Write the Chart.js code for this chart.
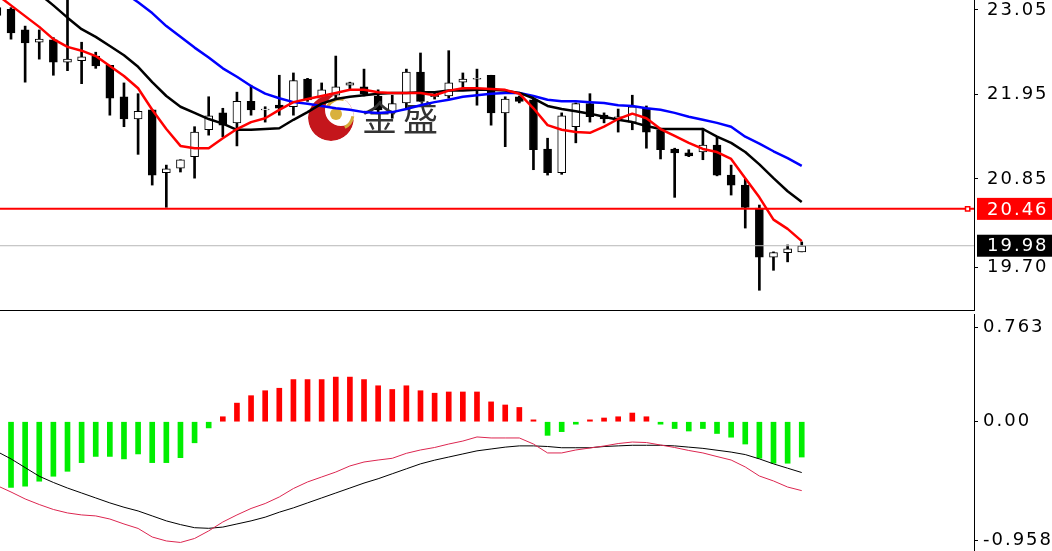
<!DOCTYPE html>
<html>
<head>
<meta charset="utf-8">
<script src="https://cdn.jsdelivr.net/npm/chart.js@4.4.1/dist/chart.umd.min.js"></script>
<style>
  html, body { margin: 0; padding: 0; background: #fff; overflow: hidden; }
  #wrap { position: relative; width: 1052px; height: 551px; }
  canvas { position: absolute; left: 0; }
  #priceChart { top: 0; }
  #macdChart { top: 312px; }
  #sep { position: absolute; left: 0; top: 310px; width: 975px; height: 1px; background: #000; }
</style>
</head>
<body>
<div id="wrap">
  <canvas id="priceChart" width="1052" height="311"></canvas>
  <div id="sep"></div>
  <canvas id="macdChart" width="1052" height="239"></canvas>
</div>
<script>
// bar numbers, first one is the half hidden candle at the left edge
const firstBar = -1;

const opens = [23.08, 23.06, 22.79, 22.63, 22.66, 22.37, 22.39, 22.45, 22.33, 21.92, 21.63,
  21.75, 20.93, 20.99, 21.14, 21.49, 21.71, 21.58, 21.86, 21.75, 21.81,
  21.79, 22.15, 21.90, 21.94, 22.07, 22.05, 21.93, 21.72, 21.84, 22.24,
  21.92, 21.93, 22.11, 22.15, 22.20, 21.71, 21.92, 21.88, 21.24, 20.93,
  21.53, 21.83, 21.68, 21.63, 21.59, 21.77, 21.49, 21.24, 21.19, 21.20,
  21.29, 20.90, 20.77, 20.47, 19.83, 19.89, 19.90];
const highs = [23.11, 23.08, 22.84, 22.79, 22.69, 23.35, 22.63, 22.50, 22.33, 22.10, 21.96,
  21.75, 21.03, 21.10, 21.53, 21.92, 21.77, 21.98, 22.07, 21.79, 22.20,
  22.23, 22.16, 22.10, 22.45, 22.11, 22.28, 22.01, 21.94, 22.28, 22.49,
  21.97, 22.52, 22.23, 22.28, 22.20, 21.92, 21.93, 21.89, 21.38, 21.71,
  21.84, 21.96, 21.71, 21.76, 21.94, 21.80, 21.51, 21.25, 21.23, 21.51,
  21.40, 21.03, 20.85, 20.51, 19.90, 19.99, 20.03];
const lows = [22.95, 22.67, 22.11, 22.41, 22.20, 22.26, 22.09, 22.29, 21.68, 21.53, 21.17,
  20.77, 20.48, 20.94, 20.86, 21.42, 21.40, 21.28, 21.68, 21.59, 21.68,
  21.68, 21.86, 21.81, 21.88, 22.01, 21.93, 21.71, 21.64, 21.77, 21.86,
  21.89, 21.90, 22.03, 21.81, 21.55, 21.27, 21.84, 20.97, 20.90, 20.91,
  21.32, 21.59, 21.58, 21.46, 21.49, 21.25, 21.11, 20.61, 21.14, 21.10,
  20.89, 20.64, 20.21, 19.40, 19.66, 19.77, 19.90];
const closes = [22.98, 22.75, 22.62, 22.67, 22.37, 22.41, 22.44, 22.32, 21.90, 21.63, 21.73,
  20.90, 20.98, 21.10, 21.46, 21.67, 21.55, 21.86, 21.75, 21.76, 21.77,
  22.13, 21.88, 22.01, 22.05, 22.10, 21.96, 21.75, 21.83, 22.24, 21.86,
  21.94, 22.10, 22.15, 22.16, 21.71, 21.89, 21.86, 21.23, 20.93, 21.67,
  21.83, 21.66, 21.63, 21.66, 21.79, 21.46, 21.23, 21.19, 21.15, 21.29,
  20.90, 20.77, 20.48, 19.83, 19.89, 19.94, 19.98];

// moving averages
const maRed = [23.25, 23.11, 22.97, 22.83, 22.67, 22.57, 22.52, 22.45, 22.32, 22.19, 22.03,
  21.75, 21.50, 21.28, 21.25, 21.25, 21.38, 21.50, 21.59, 21.64, 21.75,
  21.85, 21.89, 21.93, 21.97, 22.01, 22.01, 21.98, 21.97, 21.97, 21.97,
  21.94, 22.00, 22.03, 22.03, 22.02, 22.01, 21.96, 21.77, 21.55, 21.49,
  21.46, 21.45, 21.53, 21.63, 21.70, 21.64, 21.50, 21.41, 21.32, 21.24,
  21.20, 21.11, 20.86, 20.61, 20.32, 20.20, 20.04];
const maBlack = [23.77, 23.60, 23.41, 23.26, 23.11, 22.95, 22.80, 22.70, 22.58, 22.46, 22.31,
  22.11, 21.93, 21.79, 21.71, 21.63, 21.57, 21.49, 21.49, 21.50, 21.51,
  21.62, 21.72, 21.83, 21.89, 21.92, 21.94, 21.96, 21.97, 21.97, 21.98,
  21.98, 22.00, 22.00, 22.01, 22.01, 22.00, 21.97, 21.90, 21.80, 21.76,
  21.73, 21.70, 21.66, 21.62, 21.59, 21.54, 21.50, 21.50, 21.50, 21.50,
  21.40, 21.32, 21.20, 21.04, 20.86, 20.69, 20.55];
const maBlue = [null, null, null, null, null, null, null, null, 23.44, 23.28, 23.15,
  23.01, 22.84, 22.70, 22.56, 22.43, 22.29, 22.18, 22.06, 21.96, 21.90,
  21.85, 21.83, 21.80, 21.77, 21.75, 21.72, 21.71, 21.72, 21.76, 21.81,
  21.85, 21.88, 21.92, 21.94, 21.96, 21.97, 21.97, 21.93, 21.88, 21.86,
  21.86, 21.85, 21.84, 21.81, 21.80, 21.77, 21.75, 21.71, 21.66, 21.62,
  21.58, 21.53, 21.40, 21.31, 21.21, 21.12, 21.02];

const levelPrice = 20.46;
const lastPrice = 19.98;
const priceTicks = [23.05, 21.95, 20.85, 19.70];

// MACD panel
const macdHist = [null, -0.53, -0.52, -0.48, -0.44, -0.40, -0.33, -0.28, -0.28, -0.30, -0.26,
  -0.33, -0.33, -0.29, -0.17, -0.05, 0.04, 0.15, 0.21, 0.25, 0.27,
  0.34, 0.34, 0.34, 0.36, 0.36, 0.34, 0.29, 0.26, 0.29, 0.25,
  0.23, 0.24, 0.24, 0.24, 0.16, 0.135, 0.115, 0.015, -0.11, -0.08,
  -0.02, 0.015, 0.03, 0.04, 0.07, 0.04, -0.02, -0.055, -0.075, -0.055,
  -0.095, -0.125, -0.18, -0.295, -0.335, -0.335, -0.285];
const macdDif = [-0.515, -0.567, -0.623, -0.668, -0.708, -0.736, -0.752, -0.760, -0.785, -0.825, -0.861,
  -0.930, -0.962, -0.974, -0.942, -0.881, -0.809, -0.752, -0.700, -0.660, -0.607,
  -0.539, -0.486, -0.446, -0.406, -0.357, -0.325, -0.309, -0.295, -0.255, -0.228,
  -0.208, -0.180, -0.156, -0.123, -0.131, -0.131, -0.131, -0.180, -0.252, -0.252,
  -0.228, -0.212, -0.196, -0.176, -0.164, -0.168, -0.188, -0.208, -0.232, -0.252,
  -0.281, -0.309, -0.365, -0.438, -0.478, -0.527, -0.556];
const macdDea = [-0.24, -0.30, -0.37, -0.44, -0.49, -0.535, -0.575, -0.615, -0.655, -0.69, -0.72,
  -0.76, -0.80, -0.83, -0.855, -0.86, -0.85, -0.825, -0.80, -0.77, -0.73,
  -0.695, -0.655, -0.615, -0.575, -0.535, -0.495, -0.46, -0.42, -0.38, -0.34,
  -0.31, -0.285, -0.26, -0.235, -0.22, -0.205, -0.195, -0.195, -0.20, -0.21,
  -0.21, -0.21, -0.20, -0.195, -0.19, -0.19, -0.19, -0.195, -0.205, -0.215,
  -0.23, -0.245, -0.265, -0.30, -0.34, -0.375, -0.41];
const macdTicks = [0.763, 0, -0.958];
const macdTickLabels = ['0.763', '0.00', '-0.958'];

// visible window
const xMin = -0.78, xMax = 68.2;
const priceMin = 19.13, priceMax = 23.18;
const macdMin = -1.043, macdMax = 0.869;

Chart.defaults.font.family = '"DejaVu Sans", Verdana, sans-serif';
Chart.defaults.color = '#000';

const bars = opens.map((o, k) => firstBar + k);
const pts = arr => arr.map((v, k) => ({ x: bars[k], y: v }));

const wideText = {
    id: 'wideText',
    beforeDraw(chart) {
        chart.ctx.letterSpacing = '2px';
    }
};

const priceTags = {
    id: 'priceTags',
    afterDraw(chart) {
        const { ctx, chartArea, scales } = chart;
        [[levelPrice, '#ff0000'], [lastPrice, '#000000']].forEach(([v, bg]) => {
            const py = scales.y.getPixelForValue(v);
            ctx.save();
            ctx.fillStyle = bg;
            ctx.fillRect(chartArea.right + 3, py - 11, chart.width - chartArea.right - 3, 22);
            ctx.fillStyle = '#fff';
            ctx.font = '18px "DejaVu Sans"';
            ctx.textBaseline = 'middle';
            ctx.letterSpacing = '2px';
            ctx.fillText(v.toFixed(2), chartArea.right + 13, py + 1);
            ctx.restore();
        });
    }
};

function drawLogo(ctx) {
    ctx.save();
    ctx.beginPath();
    ctx.arc(331, 118, 23, 0, Math.PI * 2);
    ctx.clip();
    ctx.beginPath();
    ctx.arc(331, 118, 23, 0, Math.PI * 2);
    ctx.arc(341, 110, 16, 0, Math.PI * 2);
    ctx.fillStyle = '#c4161c';
    ctx.fill('evenodd');
    ctx.restore();

    ctx.save();
    ctx.strokeStyle = '#d6ac3a';
    ctx.lineWidth = 3;
    ctx.beginPath();
    ctx.arc(340, 113, 14, -2.7, -1.3);
    ctx.stroke();
    ctx.beginPath();
    ctx.arc(338, 114, 15, 0.15, 1.1);
    ctx.stroke();
    ctx.fillStyle = '#d9b13d';
    ctx.beginPath();
    ctx.arc(336, 114, 6, 0, Math.PI * 2);
    ctx.fill();
    ctx.fillStyle = '#333';
    ctx.font = '35px "Noto Sans CJK SC"';
    ctx.textBaseline = 'middle';
    ctx.letterSpacing = '0px';
    ctx.fillText('金', 362, 118);
    ctx.fillText('盛', 403, 118);
    ctx.restore();
}

const logoLayer = {
    id: 'logoLayer',
    afterDatasetDraw(chart, args) {
        if (chart.data.datasets[args.index].label === 'bodies') drawLogo(chart.ctx);
    }
};

function rightAxis(min, max, ticks, labels, pad) {
    return {
        position: 'right',
        min: min,
        max: max,
        afterBuildTicks: s => { s.ticks = ticks.map(v => ({ value: v })); },
        afterFit: s => { s.width = 78; s.paddingTop = 0; s.paddingBottom = 0; },
        ticks: {
            autoSkip: false,
            padding: pad,
            color: '#000',
            font: { size: 18 },
            callback: (v, i) => labels[i]
        },
        grid: { drawOnChartArea: false, color: '#000', tickLength: 4 },
        border: { color: '#000', width: 1 }
    };
}

const xAxis = {
    type: 'linear',
    min: xMin,
    max: xMax,
    offset: false,
    display: false,
    grid: { offset: false }
};

const lineSet = (label, order, values, color, width) => ({
    type: 'line', label: label, order: order,
    data: pts(values), borderColor: color, borderWidth: width,
    pointRadius: 0, tension: 0, borderJoinStyle: 'round'
});

new Chart(document.getElementById('priceChart'), {
    type: 'bar',
    data: {
        datasets: [
            lineSet('ma red', 0, maRed, '#ff0000', 2.5),
            lineSet('ma black', 1, maBlack, '#000000', 2.5),
            lineSet('ma blue', 2, maBlue, '#0000ff', 2.5),
            {
                type: 'line', label: 'marker', order: 0, showLine: false,
                data: [{ x: 67.75, y: levelPrice }],
                pointStyle: 'rect', pointRadius: 3, pointBorderWidth: 1.5,
                pointBorderColor: '#ff0000', pointBackgroundColor: '#fff'
            },
            {
                type: 'line', label: 'level', order: 3,
                data: [{ x: xMin - 1, y: levelPrice }, { x: xMax + 1, y: levelPrice }],
                borderColor: '#ff0000', borderWidth: 2, pointRadius: 0
            },
            {
                type: 'line', label: 'last', order: 3,
                data: [{ x: xMin - 1, y: lastPrice }, { x: xMax + 1, y: lastPrice }],
                borderColor: '#b8b8b8', borderWidth: 1, pointRadius: 0
            },
            {
                label: 'bodies', order: 4, grouped: false,
                data: bars.map((x, k) => ({ x: x, y: [opens[k], closes[k]] })),
                barThickness: 8,
                backgroundColor: c => closes[c.dataIndex] >= opens[c.dataIndex] ? '#ffffff' : '#000000',
                borderColor: '#000', borderWidth: 1, borderSkipped: false
            },
            {
                label: 'wicks', order: 5, grouped: false,
                data: bars.map((x, k) => ({ x: x, y: [lows[k], highs[k]] })),
                barThickness: 2,
                backgroundColor: '#000', borderWidth: 0
            }
        ]
    },
    options: {
        responsive: false,
        animation: false,
        devicePixelRatio: 1,
        events: [],
        layout: { autoPadding: false, padding: 0 },
        plugins: { legend: { display: false }, tooltip: { enabled: false } },
        scales: {
            x: xAxis,
            y: rightAxis(priceMin, priceMax, priceTicks, priceTicks.map(v => v.toFixed(2)), 9)
        }
    },
    plugins: [wideText, logoLayer, priceTags]
});

new Chart(document.getElementById('macdChart'), {
    type: 'bar',
    data: {
        datasets: [
            lineSet('dif', 0, macdDif, '#dc2650', 1),
            lineSet('dea', 1, macdDea, '#000000', 1),
            {
                label: 'hist', order: 2, grouped: false,
                data: pts(macdHist),
                barThickness: 5,
                backgroundColor: c => (c.raw && c.raw.y >= 0) ? '#ff0000' : '#00ee00',
                borderWidth: 0
            }
        ]
    },
    options: {
        responsive: false,
        animation: false,
        devicePixelRatio: 1,
        events: [],
        layout: { autoPadding: false, padding: { top: 2, left: 0, right: 0, bottom: 0 } },
        plugins: { legend: { display: false }, tooltip: { enabled: false } },
        scales: {
            x: xAxis,
            y: rightAxis(macdMin, macdMax, macdTicks, macdTickLabels, 5)
        }
    },
    plugins: [wideText]
});
</script>
</body>
</html>
